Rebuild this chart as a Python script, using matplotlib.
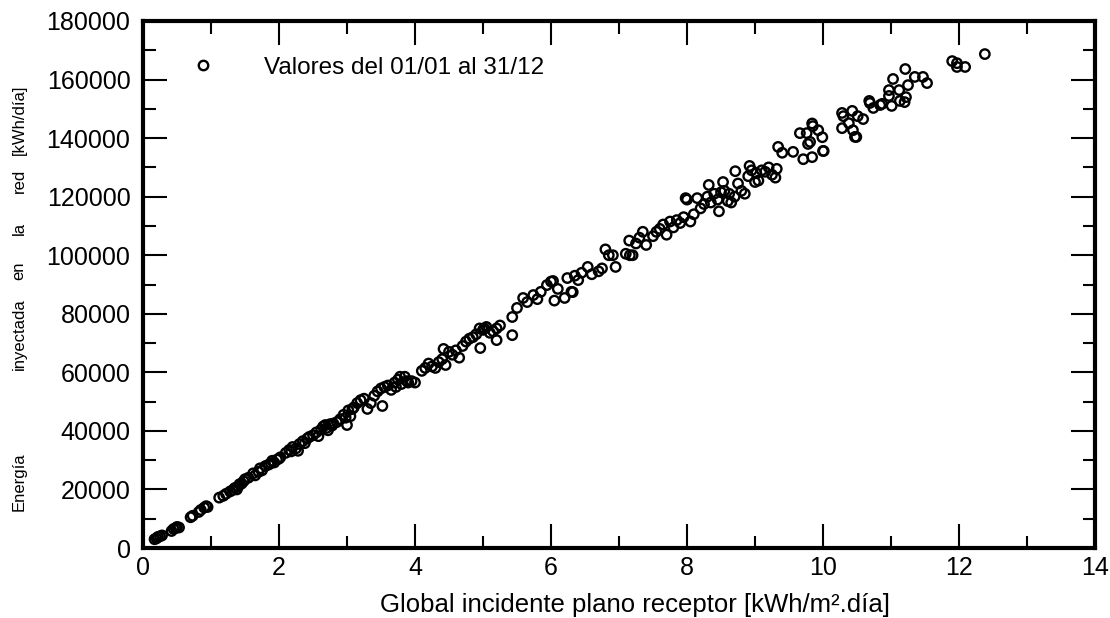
"""Scatter: daily energy injected into the grid vs global irradiation on the receiver plane."""
import matplotlib
matplotlib.use("Agg")

import matplotlib.pyplot as plt
from matplotlib.lines import Line2D
from matplotlib.ticker import MultipleLocator

# daily values (kWh/m2.dia, kWh/dia)
irradiation = [
    0.17, 0.20, 0.22, 0.25, 0.28, 0.42, 0.45, 0.48, 0.50, 0.53,
    0.70, 0.73, 0.82, 0.85, 0.90, 0.93, 0.95,
    1.12, 1.18, 1.22, 1.28, 1.32, 1.35, 1.38, 1.40, 1.42, 1.45, 1.48, 1.50,
    1.55, 1.62, 1.65, 1.70, 1.72, 1.75, 1.80, 1.85, 1.88, 1.90, 1.93, 1.97,
    2.00, 2.02,
    2.10, 2.15, 2.18, 2.20, 2.25, 2.28, 2.30, 2.35, 2.38, 2.42, 2.45, 2.50,
    2.55, 2.58, 2.62, 2.65, 2.68, 2.70, 2.72, 2.75, 2.78, 2.80, 2.85, 2.90,
    2.95, 2.98, 3.00, 3.02, 3.05, 3.08,
    3.10, 3.15, 3.20, 3.25, 3.30, 3.35, 3.40, 3.45, 3.50, 3.52, 3.55, 3.60,
    3.65, 3.70, 3.72, 3.75, 3.78, 3.80, 3.85, 3.88, 3.90, 3.95, 4.00,
    4.10, 4.15, 4.20, 4.25, 4.30, 4.35, 4.40, 4.42, 4.45, 4.50, 4.55, 4.60,
    4.65, 4.70, 4.75, 4.80, 4.85, 4.90, 4.95, 4.96, 5.00, 5.02, 5.05, 5.10,
    5.15, 5.20, 5.20, 5.25, 5.43, 5.43,
    5.50, 5.59, 5.65, 5.74, 5.80, 5.85, 5.94, 6.00, 6.03, 6.05, 6.10, 6.20,
    6.24, 6.30, 6.32, 6.35, 6.40, 6.45, 6.54, 6.60, 6.70, 6.75, 6.80, 6.85,
    6.91, 6.95,
    7.10, 7.15, 7.16, 7.20, 7.25, 7.30, 7.35, 7.40, 7.50, 7.55, 7.60, 7.65,
    7.70, 7.75, 7.80, 7.85, 7.90, 7.95, 7.98, 8.00, 8.05, 8.10, 8.15, 8.20,
    8.25, 8.30, 8.32, 8.35, 8.40, 8.45, 8.47, 8.50, 8.53, 8.55, 8.60, 8.62,
    8.65, 8.70, 8.71, 8.75, 8.80, 8.85, 8.90, 8.92, 8.95,
    9.00, 9.02, 9.05, 9.10, 9.15, 9.20, 9.25, 9.30, 9.32, 9.34, 9.40, 9.56,
    9.66, 9.71, 9.76, 9.78, 9.81, 9.84, 9.84, 9.85, 9.93, 9.99, 10.00, 10.01,
    10.28, 10.28, 10.30, 10.38, 10.43, 10.44, 10.47, 10.49, 10.51, 10.59,
    10.68, 10.69, 10.74, 10.84, 10.87, 10.97, 10.97, 11.01, 11.03, 11.12,
    11.13, 11.20, 11.21, 11.22, 11.25, 11.35, 11.47, 11.53,
    11.90, 11.97, 11.97, 12.09, 12.38,
]
energy = [
    3000, 3300, 3800, 4000, 4300, 5800, 6500, 6800, 7200, 7000,
    10500, 11000, 12300, 13000, 13800, 14300, 14000,
    17200, 17800, 18500, 19300, 19800, 20500, 20000, 21000, 21800, 22000, 22800, 23500,
    24000, 25500, 24800, 26000, 27200, 26500, 28000, 28500, 29000, 29800, 29200, 30200,
    30500, 31000,
    32500, 33500, 33000, 34500, 34000, 33200, 35500, 36500, 35800, 37500, 38000, 38500,
    39500, 38200, 40500, 41500, 42000, 41000, 40200, 42300, 41800, 42500, 43000, 44000,
    45500, 44500, 42000, 47000, 45000, 47500,
    48000, 49500, 50500, 51000, 47500, 49500, 52000, 53500, 54500, 48500, 55000, 55500,
    54000, 56500, 55000, 57500, 58500, 56000, 58500, 57000, 56500, 57000, 56500,
    60500, 61500, 63000, 62000, 61500, 63500, 64500, 68000, 62500, 67000, 66000, 67500,
    65000, 69000, 70500, 71500, 72000, 73000, 75000, 68300, 74500, 75000, 75500, 73500,
    74000, 75000, 71000, 76000, 72700, 78900,
    82000, 85400, 84000, 86400, 85000, 87500, 89800, 91000, 91200, 84500, 88500, 85400,
    92200, 87500, 87400, 93000, 91500, 94000, 96000, 93500, 94500, 95500, 102000, 100000,
    100000, 96000,
    100500, 105000, 100000, 100000, 104000, 106000, 108000, 103500, 106500, 108000, 109000, 110500,
    107000, 111500, 109500, 112000, 111000, 113000, 119500, 119000, 111500, 114000, 119500, 116000,
    117500, 120000, 124000, 118000, 121000, 119000, 115000, 121500, 125000, 122000, 118500, 121000,
    118000, 120000, 128700, 124500, 122000, 121000, 127000, 130500, 129000,
    125000, 128000, 125500, 129000, 128500, 130000, 127500, 126500, 129500, 137000, 135000, 135300,
    141700, 132800, 141700, 138000, 138700, 145000, 133500, 144100, 142700, 140300, 135600, 135600,
    148600, 143400, 147500, 145100, 149300, 142700, 140400, 140400, 147500, 146500,
    152700, 152000, 150300, 151300, 151700, 156400, 154400, 151000, 160200, 156400,
    152700, 152300, 163600, 154000, 158100, 160900, 160900, 158800,
    166300, 165600, 164300, 164300, 168700,
]

LEGEND_TEXT = "Valores del 01/01 al 31/12"
X_LABEL = "Global incidente plano receptor [kWh/m\u00b2.d\u00eda]"
Y_WORDS = ["Energ\u00eda", "inyectada", "en", "la", "red", "[kWh/d\u00eda]"]
Y_WORD_POS = [482, 334, 271, 228, 181, 120]   # pixel centres (from top)

plt.rcParams["font.family"] = ["Liberation Sans", "DejaVu Sans"]

W, H = 1110, 618
fig = plt.figure(figsize=(W / 100, H / 100), dpi=100)
ax = fig.add_axes([143 / W, 1 - 548 / H, (1095 - 143) / W, (548 - 21) / H])

ax.scatter(irradiation, energy, s=46, facecolors="none", edgecolors="black",
           linewidths=1.7, zorder=3)

ax.set_xlim(0, 14)
ax.set_ylim(0, 180000)
ax.xaxis.set_major_locator(MultipleLocator(2))
ax.xaxis.set_minor_locator(MultipleLocator(1))
ax.yaxis.set_major_locator(MultipleLocator(20000))
ax.yaxis.set_minor_locator(MultipleLocator(10000))
ax.tick_params(which="both", direction="in", top=True, right=True,
               color="black", width=1.5)
ax.tick_params(which="major", length=17, labelsize=18)
ax.tick_params(which="minor", length=9)
ax.tick_params(axis="x", which="major", pad=6)
ax.tick_params(axis="y", which="major", pad=9)
for sp in ax.spines.values():
    sp.set_linewidth(3)

ax.set_xlabel(X_LABEL, fontsize=18.5)
ax.xaxis.set_label_coords((635 - 143) / (1095 - 143), -(605 - 548) / (548 - 21))
ax.xaxis.label.set_va("center")

for word, ypix in zip(Y_WORDS, Y_WORD_POS):
    fig.text(19 / W, 1 - ypix / H, word, rotation=90, fontsize=12,
             ha="center", va="center")

handle = Line2D([], [], ls="none", marker="o", ms=6.8, mfc="none",
                mec="black", mew=1.7)
ax.legend([handle], [LEGEND_TEXT], loc="upper left", frameon=False,
          fontsize=17.5, handletextpad=1.5, borderaxespad=0.6,
          bbox_to_anchor=(0.012, 0.978))

fig.savefig("out.png", dpi=100)
